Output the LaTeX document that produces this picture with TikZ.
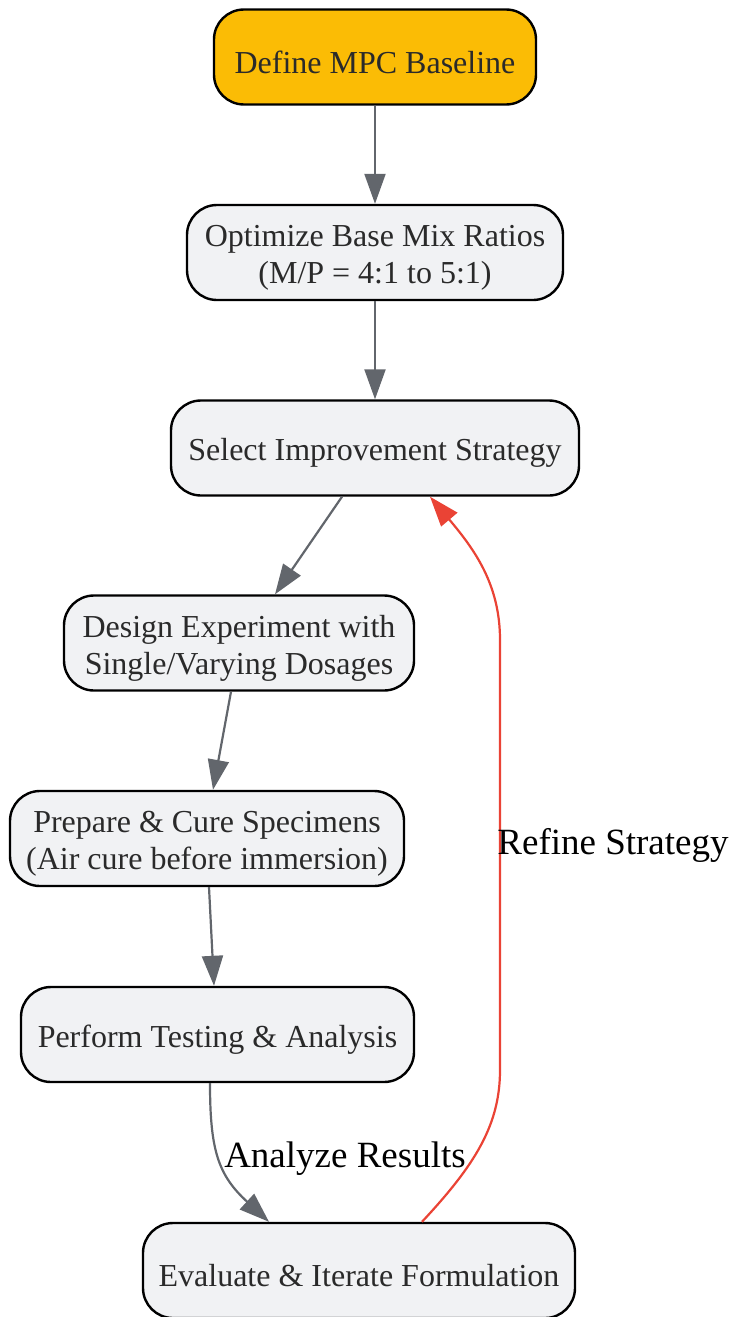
\documentclass[tikz,border=0pt]{standalone}
\usepackage{fontspec}
\setmainfont{Liberation Serif}
\usetikzlibrary{arrows.meta}
\definecolor{boxfill}{HTML}{F1F2F4}
\definecolor{gold}{HTML}{FBBC05}
\definecolor{edgegray}{HTML}{62666C}
\definecolor{edgered}{HTML}{EA4335}
\definecolor{txt}{HTML}{2A2A2A}
\begin{document}
\begin{tikzpicture}[x=1pt,y=-1pt,
  stepbox/.style={draw=black,line width=2.4pt,fill=boxfill,rounded corners=30pt,
    minimum height=95pt,inner sep=0pt},
  boxtext/.style={align=center,text=txt,inner sep=0pt,yshift=-5pt,
    font=\fontsize{32}{37}\selectfont},
  conn/.style={draw=edgegray,line width=2.2pt,-{Triangle[length=30pt,width=21pt]}},
  redconn/.style={draw=edgered,line width=2.2pt,-{Triangle[length=30pt,width=21pt]}},
  lbl/.style={font=\fontsize{37}{42}\selectfont,text=black,inner sep=0pt}]
\useasboundingbox (0,0) rectangle (731,1317);
\node[stepbox,fill=gold,minimum width=322pt,label={[boxtext]center:Define MPC Baseline}] (n1) at (375,57) {};
\node[stepbox,minimum width=376pt,label={[boxtext]center:Optimize Base Mix Ratios\\(M/P = 4:1 to 5:1)}] (n2) at (375,252.5) {};
\node[stepbox,minimum width=408pt,label={[boxtext]center:Select Improvement Strategy}] (n3) at (375,448) {};
\node[stepbox,minimum width=350pt,label={[boxtext]center:Design Experiment with\\Single/Varying Dosages}] (n4) at (239,643) {};
\node[stepbox,minimum width=394pt,label={[boxtext]center:Prepare \& Cure Specimens\\(Air cure before immersion)}] (n5) at (207,838.5) {};
\node[stepbox,minimum width=393pt,label={[boxtext]center:Perform Testing \& Analysis}] (n6) at (217.5,1034.5) {};
\node[stepbox,minimum width=432pt,label={[boxtext]center:Evaluate \& Iterate Formulation}] (n7) at (359,1270.5) {};
\draw[conn] (n1.south) -- (n2.north);
\draw[conn] (n2.south) -- (n3.north);
\draw[conn] ([xshift=-33pt]n3.south) -- ([xshift=36pt]n4.north);
\draw[conn] ([xshift=-8pt]n4.south) -- ([xshift=6pt]n5.north);
\draw[conn] ([xshift=2pt]n5.south) -- ([xshift=-3.5pt]n6.north);
\draw[conn] ([xshift=-7.5pt]n6.south) .. controls (210,1150) and (218,1175) .. ([xshift=-90pt]n7.north);
\draw[redconn] ([xshift=63pt]n7.north) .. controls (475,1165) and (500,1125) .. (500,1070) -- (500,640) .. controls (500,585) and (475,550) .. ([xshift=55pt]n3.south);
\node[lbl] (la) at (345,1159) {Analyze Results};
\node[lbl] (lr) at (613,845) {Refine Strategy};
\end{tikzpicture}
\end{document}
